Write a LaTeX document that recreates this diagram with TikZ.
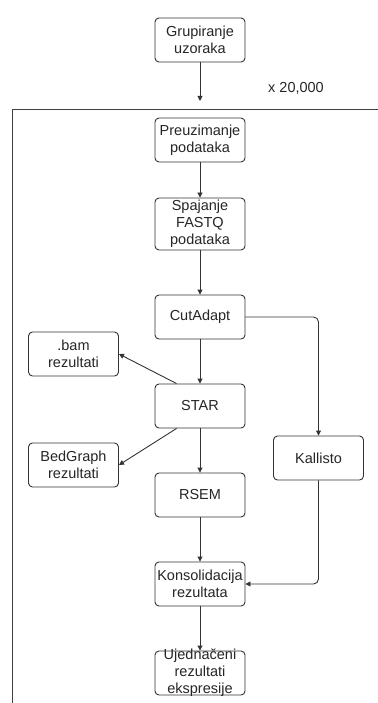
\documentclass[tikz,border=0pt]{standalone}
\usepackage{fontspec}
\setmainfont{Liberation Sans}
\usetikzlibrary{arrows.meta}
\begin{document}
\begin{tikzpicture}[x=1pt,y=-1pt,
  box/.style={draw=black!80, line width=0.9pt, rounded corners=4pt, fill=white,
    minimum width=90pt, minimum height=44pt, inner xsep=1pt, inner ysep=1pt,
    align=center, font=\fontsize{14.5}{16.8}\selectfont, text=black!85},
  conn/.style={draw=black!80, line width=0.9pt, -{Triangle[length=5pt,width=5pt]}},
  frameline/.style={draw=black!75, line width=1pt}]
\useasboundingbox (0,0) rectangle (377,703);
% frame
\draw[frameline] (12,704) -- (12,110) -- (378,110);
\node[font=\fontsize{14.5}{16.8}\selectfont, text=black!85] (rep) at (296,88) {x 20,000};
% nodes
\node[box] (grup) at (200,40) {Grupiranje\\uzoraka};
\coordinate (entry) at (200,101);
\node[box] (preuz) at (200,140) {Preuzimanje\\podataka};
\node[box, minimum height=52pt] (spaj) at (200,224) {Spajanje\\FASTQ\\podataka};
\node[box] (cut) at (200,317) {CutAdapt};
\node[box] (bam) at (73.5,354) {.bam\\rezultati};
\node[box] (star) at (200,406) {STAR};
\node[box] (bed) at (73.5,465) {BedGraph\\rezultati};
\node[box] (kal) at (318.5,458) {Kallisto};
\node[box] (rsem) at (200,495) {RSEM};
\node[box] (kons) at (200,584) {Konsolidacija\\rezultata};
\node[box, inner ysep=-2.5pt] (uj) at (200,673) {Ujednačeni\\rezultati\\ekspresije};
\coordinate (sa) at ([xshift=22pt]star.north west);
\coordinate (sb) at ([xshift=22pt]star.south west);
% connectors
\draw[conn] (grup) -- (entry);
\draw[conn] (preuz) -- (spaj);
\draw[conn] (spaj) -- (cut);
\draw[conn] (cut) -- (star);
\draw[conn] (sa) -- (bam.east);
\draw[conn] (sb) -- (bed.east);
\draw[conn] (star) -- (rsem);
\draw[conn] (rsem) -- (kons);
\draw[conn] (kons) -- (uj);
\draw[conn, rounded corners=5pt] (cut.east) -| (kal.north);
\draw[conn, rounded corners=5pt] (kal.south) |- (kons.east);
\end{tikzpicture}
\end{document}
